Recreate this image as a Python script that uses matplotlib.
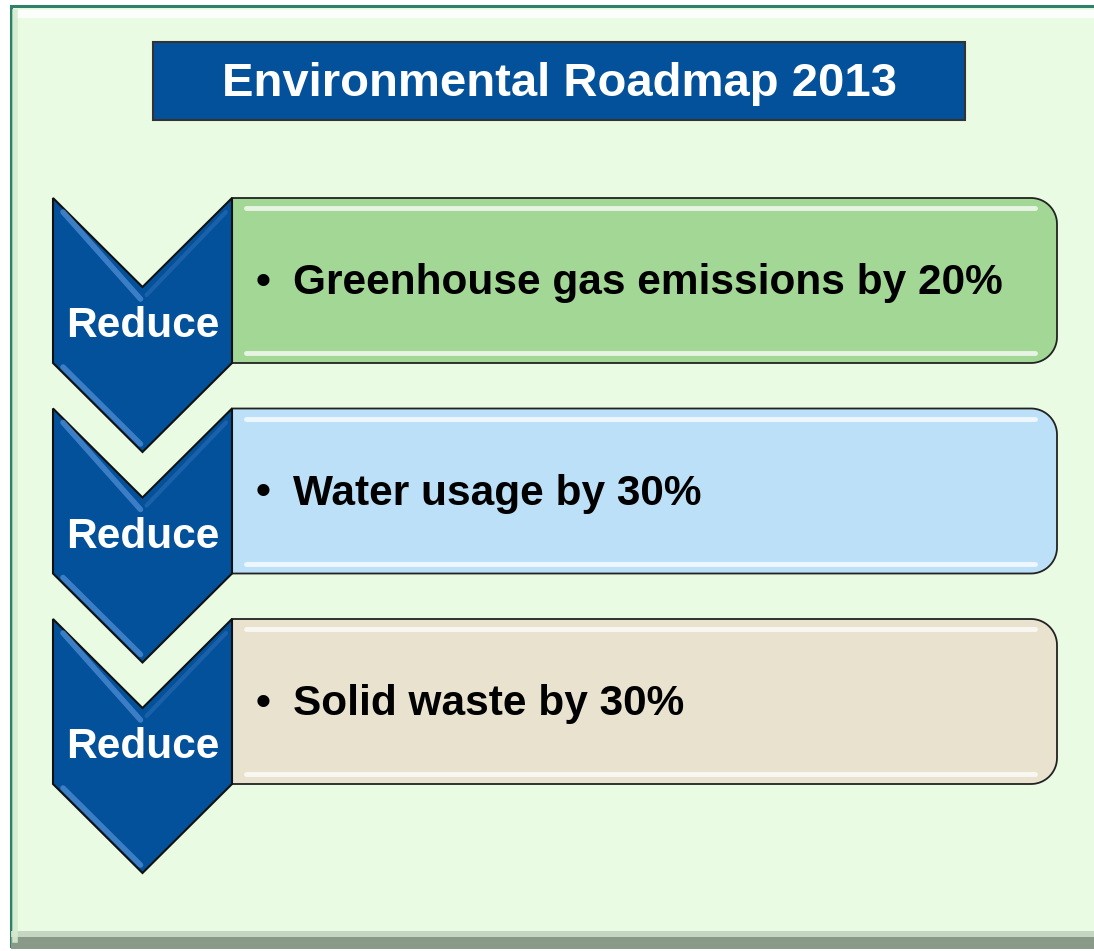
import matplotlib.pyplot as plt
import numpy as np
from matplotlib.patches import Polygon, Rectangle

# Contenido del diagrama
titulo = 'Environmental Roadmap 2013'
accion = 'Reduce'
metas = ['Greenhouse gas emissions by 20%', 'Water usage by 30%', 'Solid waste by 30%']
colores_caja = ['#a3d795', '#bde0f9', '#e8e2cf']

plt.rcParams['font.family'] = ['Liberation Sans', 'DejaVu Sans']

fig = plt.figure(figsize=(10.94, 9.51), dpi=100)
ax = fig.add_axes([0, 0, 1, 1])
ax.set_xlim(0, 1094)
ax.set_ylim(951, 0)
ax.axis('off')

# Marco exterior con fondo verde claro
ax.add_patch(Rectangle((11, 6), 1100, 940, facecolor='#e9fbe3',
                       edgecolor='#2f7f6a', linewidth=2.2))
ax.plot([16, 1094], [14, 14], color='white', lw=6, alpha=0.9, solid_capstyle='butt')
ax.plot([15, 15], [12, 940], color='#d5ecd0', lw=4, alpha=0.9)
ax.add_patch(Rectangle((11, 937), 1100, 12, facecolor='#8a9a88', edgecolor='none'))
ax.add_patch(Rectangle((11, 931), 1100, 6, facecolor='#c6d6c2', edgecolor='none'))

# Caja del título
ax.add_patch(Rectangle((153, 42), 812, 78, facecolor='#02519a',
                       edgecolor='#333333', linewidth=1.5))
ax.text(559, 84, titulo, color='white', fontsize=34, fontweight='bold',
        ha='center', va='center')

x0, ancho, alto, muesca = 53, 179, 165, 89
xb, xr, radio = 232, 1057, 26
paso = 210.5

for i, (meta, color) in enumerate(zip(metas, colores_caja)):
    y0 = 198 + i * paso

    # caja con esquinas redondeadas a la derecha
    t1 = np.linspace(-np.pi / 2, 0, 20)
    t2 = np.linspace(0, np.pi / 2, 20)
    pts = [(xb, y0)]
    pts += [(xr - radio + radio * np.cos(t), y0 + radio + radio * np.sin(t)) for t in t1]
    pts += [(xr - radio + radio * np.cos(t), y0 + alto - radio + radio * np.sin(t)) for t in t2]
    pts += [(xb, y0 + alto)]
    ax.add_patch(Polygon(pts, closed=True, facecolor=color, edgecolor='#222222',
                         linewidth=1.3, zorder=2))
    ax.plot([xb + 14, xr - 22], [y0 + 10, y0 + 10], color='white', lw=3.5,
            alpha=0.75, zorder=3, solid_capstyle='round')
    ax.plot([xb + 14, xr - 22], [y0 + alto - 10, y0 + alto - 10], color='white',
            lw=3.5, alpha=0.75, zorder=3, solid_capstyle='round')
    ax.text(xb + 24, y0 + 85, '\u2022', fontsize=30.5, fontweight='bold',
            color='black', ha='left', va='center', zorder=4)
    ax.text(xb + 61, y0 + 85, meta, fontsize=30.5, fontweight='bold',
            color='black', ha='left', va='center', zorder=4)

    # chevron azul
    cx = x0 + ancho / 2
    chev = [(x0, y0), (cx, y0 + muesca), (x0 + ancho, y0), (x0 + ancho, y0 + alto),
            (cx, y0 + alto + muesca), (x0, y0 + alto)]
    ax.add_patch(Polygon(chev, closed=True, facecolor='#02519a', edgecolor='#111111',
                         linewidth=1.5, zorder=5))
    ax.plot([x0 + 10, cx - 2], [y0 + 14, y0 + muesca + 12], color='#4a8ad0',
            lw=4, alpha=0.8, zorder=6, solid_capstyle='round')
    ax.plot([x0 + 10, cx - 2], [y0 + alto + 4, y0 + alto + muesca - 8], color='#4a8ad0',
            lw=4, alpha=0.8, zorder=6, solid_capstyle='round')
    ax.plot([cx + 4, x0 + ancho - 6], [y0 + muesca + 8, y0 + 14], color='#2d6cb4',
            lw=3, alpha=0.6, zorder=6, solid_capstyle='round')
    ax.text(cx, y0 + 128, accion, color='white', fontsize=30.5, fontweight='bold',
            ha='center', va='center', zorder=7)

fig.savefig('out.png', dpi=100)
